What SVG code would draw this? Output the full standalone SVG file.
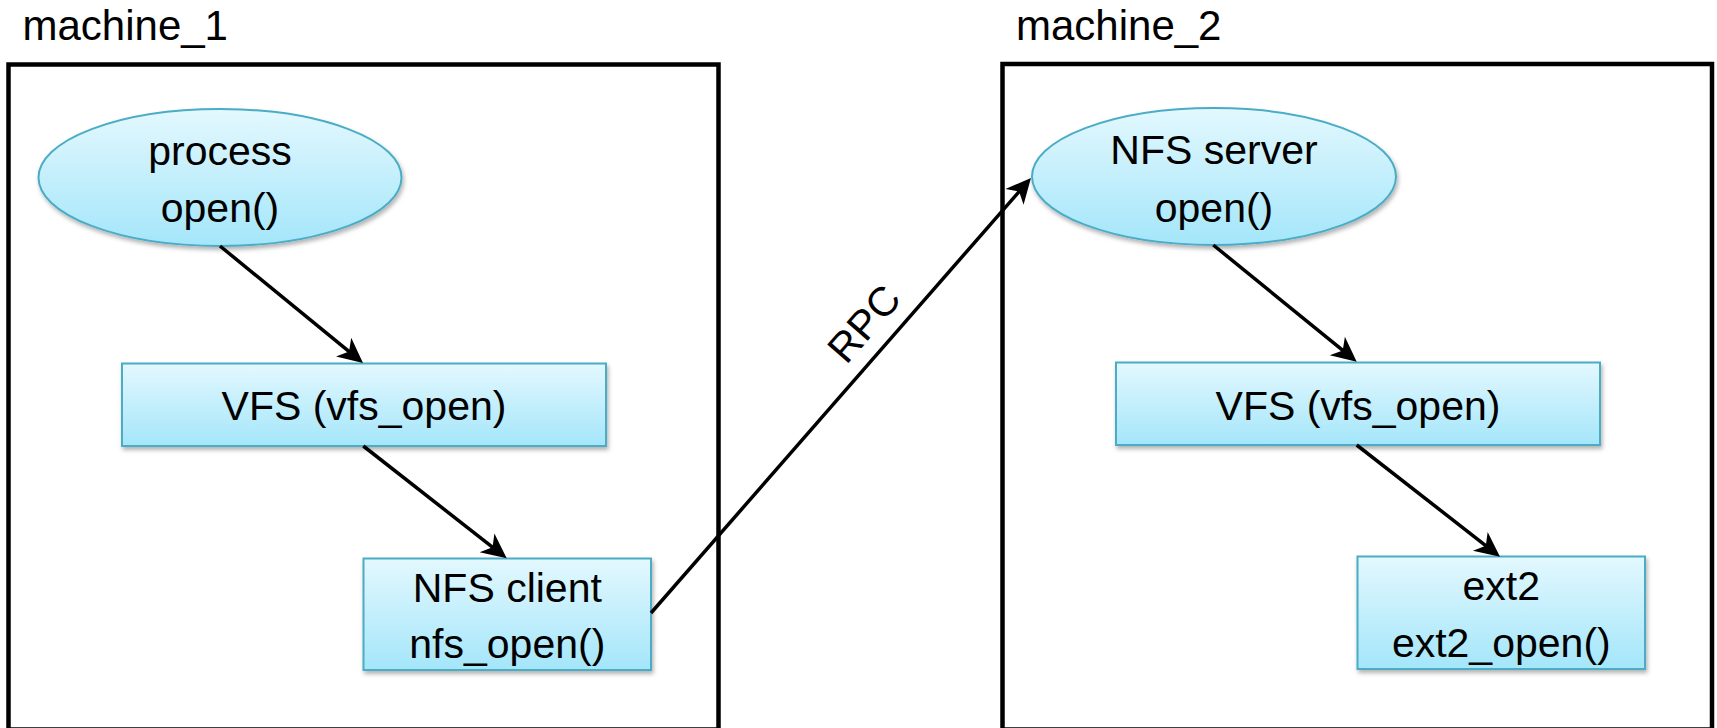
<svg xmlns="http://www.w3.org/2000/svg" width="1717" height="728" viewBox="0 0 1717 728">
  <defs>
    <linearGradient id="nodeFill" x1="0" y1="0" x2="0" y2="1">
      <stop offset="0" stop-color="#E3F8FE"/>
      <stop offset="1" stop-color="#A4E6FA"/>
    </linearGradient>
    <filter id="shadow" x="-10%" y="-10%" width="125%" height="140%">
      <feDropShadow dx="1.5" dy="3" stdDeviation="2" flood-color="#000" flood-opacity="0.3"/>
    </filter>
    <marker id="arrow" markerUnits="userSpaceOnUse" markerWidth="40" markerHeight="40" refX="0" refY="0" orient="auto" overflow="visible">
      <path d="M8,0 L-17,-12 L-10,0 L-17,12 Z" fill="#000"/>
    </marker>
  </defs>
  <style>
    .frame { fill: none; stroke: #000; stroke-width: 4.5; }
    .title { font-family: "Liberation Sans", Arial, sans-serif; font-size: 42px; fill: #000; }
    .node { fill: url(#nodeFill); stroke: #4BACC6; stroke-width: 2; filter: url(#shadow); }
    .label { font-family: "Liberation Sans", Arial, sans-serif; font-size: 41px; fill: #000; text-anchor: middle; }
    .edge { fill: none; stroke: #000; stroke-width: 3.5; marker-end: url(#arrow); }
  </style>

  <rect width="1717" height="728" fill="#fff"/>

  <!-- machine containers -->
  <g id="machine_1">
    <rect class="frame" x="8.5" y="64.5" width="710" height="665"/>
    <text class="title" x="22.5" y="40">machine_1</text>
  </g>
  <g id="machine_2">
    <rect class="frame" x="1002.5" y="64" width="709.5" height="665.5"/>
    <text class="title" x="1016" y="40">machine_2</text>
  </g>

  <!-- machine_1 nodes -->
  <g id="process">
    <ellipse class="node" cx="220" cy="177.5" rx="181.5" ry="68.5"/>
    <text class="label" x="220" y="165">process</text>
    <text class="label" x="220" y="222">open()</text>
  </g>
  <g id="vfs_1">
    <rect class="node" x="122" y="363.5" width="484" height="82.5"/>
    <text class="label" x="364" y="420">VFS (vfs_open)</text>
  </g>
  <g id="nfs_client">
    <rect class="node" x="363.5" y="558.5" width="287.5" height="111.5"/>
    <text class="label" x="507.3" y="601.5">NFS client</text>
    <text class="label" x="507.3" y="658">nfs_open()</text>
  </g>

  <!-- machine_2 nodes -->
  <g id="nfs_server">
    <ellipse class="node" cx="1214" cy="176.5" rx="182" ry="68.5"/>
    <text class="label" x="1214" y="163.5">NFS server</text>
    <text class="label" x="1214" y="221.5">open()</text>
  </g>
  <g id="vfs_2">
    <rect class="node" x="1116" y="362.5" width="484" height="82.5"/>
    <text class="label" x="1358" y="419.5">VFS (vfs_open)</text>
  </g>
  <g id="ext2">
    <rect class="node" x="1357.5" y="556.5" width="287.5" height="112.5"/>
    <text class="label" x="1501.3" y="600">ext2</text>
    <text class="label" x="1501.3" y="656.5">ext2_open()</text>
  </g>

  <!-- connectors -->
  <g id="connectors">
    <line class="edge" x1="220" y1="246" x2="356.8" y2="357.9"/>
    <line class="edge" x1="363.3" y1="446" x2="500.4" y2="553.4"/>
    <line class="edge" x1="651" y1="613" x2="1025.7" y2="184"/>
    <line class="edge" x1="1213.3" y1="245" x2="1350.5" y2="356.7"/>
    <line class="edge" x1="1356.7" y1="445" x2="1493.7" y2="551.8"/>
    <text class="label" transform="translate(874.6,332.9) rotate(-48.86)" x="0" y="0">RPC</text>
  </g>
</svg>
